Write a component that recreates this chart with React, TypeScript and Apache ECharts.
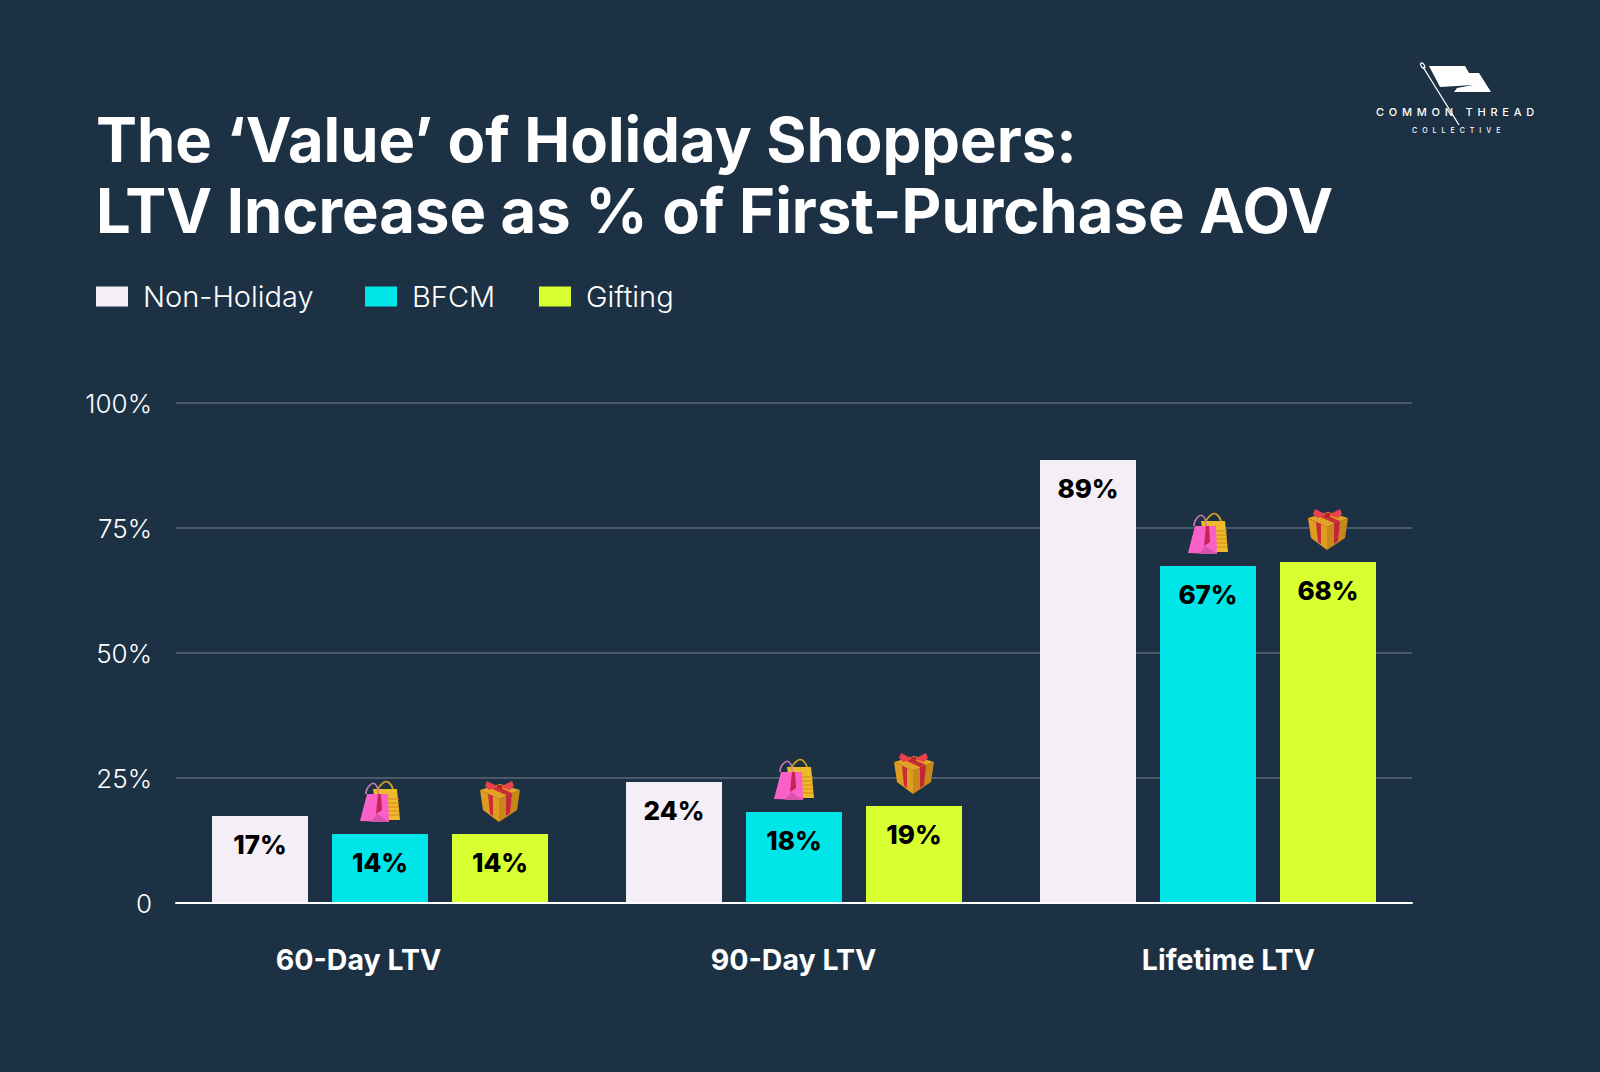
import React, { useEffect, useRef } from "react";
import * as echarts from "echarts";

const categories = ["60-Day LTV", "90-Day LTV", "Lifetime LTV"];
const nonHoliday = [17.4, 24.2, 88.6];
const bfcm = [13.8, 18.2, 67.4];
const gifting = [13.8, 19.4, 68.2];
const yTicks = [0, 25, 50, 75, 100];
const titleText = "The ‘Value’ of Holiday Shoppers:\nLTV Increase as % of First-Purchase AOV";

const BG = "#1D3144";
const FONT = "Inter";
const BAR_STEP = 120;
const ICON_LIFT = 32;

const bagChildren = () => {
  const poly = (points: number[][], fill: string) => ({ type: "polygon", shape: { points }, style: { fill } });
  const hand = (points: number[][], stroke: string) => ({
    type: "polyline",
    shape: { points, smooth: 0.6 },
    style: { stroke, lineWidth: 1.6, fill: "none" },
  });
  const stripes = [-3, 1, 5, 9, 13].map((y) => ({
    type: "line",
    shape: { x1: 3, y1: y, x2: 19, y2: y },
    style: { stroke: "#D98E1F", lineWidth: 1.2 },
  }));
  return [
    hand([[-2, -13], [3, -19], [8, -20], [13, -13]], "#D9A21B"),
    poly([[-7, -13], [17, -13], [20, 18], [-2, 18]], "#EDBB2A"),
    ...stripes,
    hand([[-14, -8], [-11, -16], [-5, -18], [-2, -8]], "#C77BB5"),
    poly([[-13, -8], [8, -8], [9, 20], [-20, 19]], "#FB5FC8"),
    poly([[-2, -8], [1, -8], [2, 8], [-4, 12]], "#C62457"),
    poly([[-3, 12], [9, 20], [-9, 20]], "#D653A8"),
  ];
};

const giftChildren = () => {
  const poly = (points: number[][], fill: string) => ({ type: "polygon", shape: { points }, style: { fill } });
  return [
    poly([[-20, -12], [0, -18], [20, -12], [-1, -3]], "#E0A324"),
    poly([[-20, -12], [-1, -3], [-1, 20], [-17, 8]], "#DE9D1E"),
    poly([[-1, -3], [20, -12], [17, 8], [-1, 20]], "#C9871A"),
    poly([[-12, -8], [-7, -6], [-7, 14], [-10, 12]], "#CC2B3A"),
    poly([[6, -7], [12, -9], [10, 11], [6, 14]], "#C4253A"),
    poly([[-12, -15], [-6, -17], [12, -9], [6, -7]], "#C92E38"),
    poly([[-13, -21], [-1, -15], [-11, -12], [-15, -16]], "#E9424A"),
    poly([[12, -21], [0, -15], [10, -12], [14, -16]], "#E9424A"),
    poly([[-3, -17], [2, -17], [2, -13], [-3, -13]], "#B8242E"),
  ];
};

const iconSeries = (name: string, values: number[], offset: number, make: () => any[]) => ({
  type: "custom",
  name,
  xAxisIndex: 1,
  yAxisIndex: 1,
  z: 4,
  silent: true,
  data: values.map((v, i) => [i, v]),
  renderItem: (_p: any, api: any) => {
    const c = api.coord([api.value(0), api.value(1)]);
    return { type: "group", x: c[0] + offset, y: c[1] - ICON_LIFT, children: make() };
  },
});

const barSeries = (name: string, data: number[], color: string) => ({
  type: "bar",
  name,
  data,
  xAxisIndex: 1,
  yAxisIndex: 1,
  barWidth: 96,
  barGap: "25%",
  itemStyle: { color },
  label: {
    show: true,
    position: "insideTop",
    distance: 15,
    color: "#000",
    fontFamily: FONT,
    fontSize: 26,
    fontWeight: 800,
    formatter: (p: any) => `${Math.round(p.value)}%`,
  },
});

const legendItem = (name: string, left: number) => ({
  data: [name],
  left,
  top: 277,
  itemWidth: 32,
  itemHeight: 20,
  itemGap: 0,
  selectedMode: false,
  icon: "rect",
  textStyle: { color: "#fff", fontFamily: FONT, fontSize: 29, fontWeight: 300, padding: [0, 0, 0, 10] },
});

const flag = [[1429, 66], [1465, 66], [1469, 73], [1479, 73], [1491, 92], [1454, 92], [1457, 88], [1473, 85], [1440, 87]];

export default function App() {
  const ref = useRef<HTMLDivElement>(null);
  useEffect(() => {
    const chart = echarts.init(ref.current!, null, { renderer: "svg" });
    chart.setOption({
      animation: false,
      backgroundColor: BG,
      title: {
        text: titleText,
        left: 91,
        top: 99,
        textStyle: { color: "#fff", fontFamily: FONT, fontSize: 61.5, fontWeight: 700, lineHeight: 71 },
      },
      legend: [legendItem("Non-Holiday", 91), legendItem("BFCM", 360), legendItem("Gifting", 534)],
      grid: [
        { left: 176, width: 1236, top: 403, height: 500 },
        { left: 173, width: 1242, top: 403, height: 500 },
        { left: 141, width: 1305, top: 403, height: 500 },
      ],
      xAxis: [
        { gridIndex: 0, type: "category", data: categories, z: 5, axisTick: { show: false }, axisLabel: { show: false }, axisLine: { lineStyle: { color: "#fff", width: 2 } } },
        { gridIndex: 1, type: "category", data: categories, show: false },
        {
          gridIndex: 2,
          type: "category",
          data: categories,
          axisTick: { show: false },
          axisLine: { show: false },
          axisLabel: { color: "#fff", fontFamily: FONT, fontSize: 28.5, fontWeight: 700, margin: 42 },
        },
      ],
      yAxis: [
        {
          gridIndex: 0,
          type: "value",
          min: 0,
          max: 100,
          interval: 25,
          axisLine: { show: false },
          axisTick: { show: false },
          splitLine: { lineStyle: { color: "#4A5A69", width: 2 } },
          axisLabel: {
            color: "#fff",
            fontFamily: FONT,
            fontSize: 26,
            fontWeight: 300,
            margin: 24,
            formatter: (v: number) => (yTicks.includes(v) && v !== 0 ? `${v}%` : "0"),
          },
        },
        { gridIndex: 1, type: "value", min: 0, max: 100, show: false },
        { gridIndex: 2, type: "value", min: 0, max: 100, show: false },
      ],
      series: [
        barSeries("Non-Holiday", nonHoliday, "#F4EFF6"),
        barSeries("BFCM", bfcm, "#00E6E8"),
        barSeries("Gifting", gifting, "#D8FF2F"),
        iconSeries("BFCM icon", bfcm, 0, bagChildren),
        iconSeries("Gifting icon", gifting, BAR_STEP, giftChildren),
      ],
      graphic: [
        { type: "polygon", shape: { points: flag }, style: { fill: "#fff" } },
        { type: "line", shape: { x1: 1423, y1: 67, x2: 1459, y2: 125 }, style: { stroke: "#fff", lineWidth: 1.3 } },
        { type: "ellipse", shape: { cx: 1422, cy: 66, rx: 1.6, ry: 3 }, rotation: 0.55, originX: 1422, originY: 66, style: { fill: "none", stroke: "#fff", lineWidth: 1.2 } },
        { type: "text", id: "logo1", x: 1376, y: 106, style: { text: "COMMON THREAD", fill: "#fff", font: "500 11px Inter" } },
        { type: "text", id: "logo2", x: 1412, y: 127, style: { text: "COLLECTIVE", fill: "#fff", font: "500 7px Inter" } },
      ],
    });
    const spacing: Record<string, string> = { "COMMON THREAD": "4.75px", COLLECTIVE: "5px" };
    const applySpacing = () => {
      ref.current?.querySelectorAll("text").forEach((t) => {
        const s = spacing[t.textContent || ""];
        if (s) (t as SVGTextElement).style.letterSpacing = s;
      });
    };
    applySpacing();
    chart.on("finished", applySpacing);
    return () => chart.dispose();
  }, []);
  return <div ref={ref} style={{ position: "absolute", left: 0, top: 0, width: 1600, height: 1072 }} />;
}
